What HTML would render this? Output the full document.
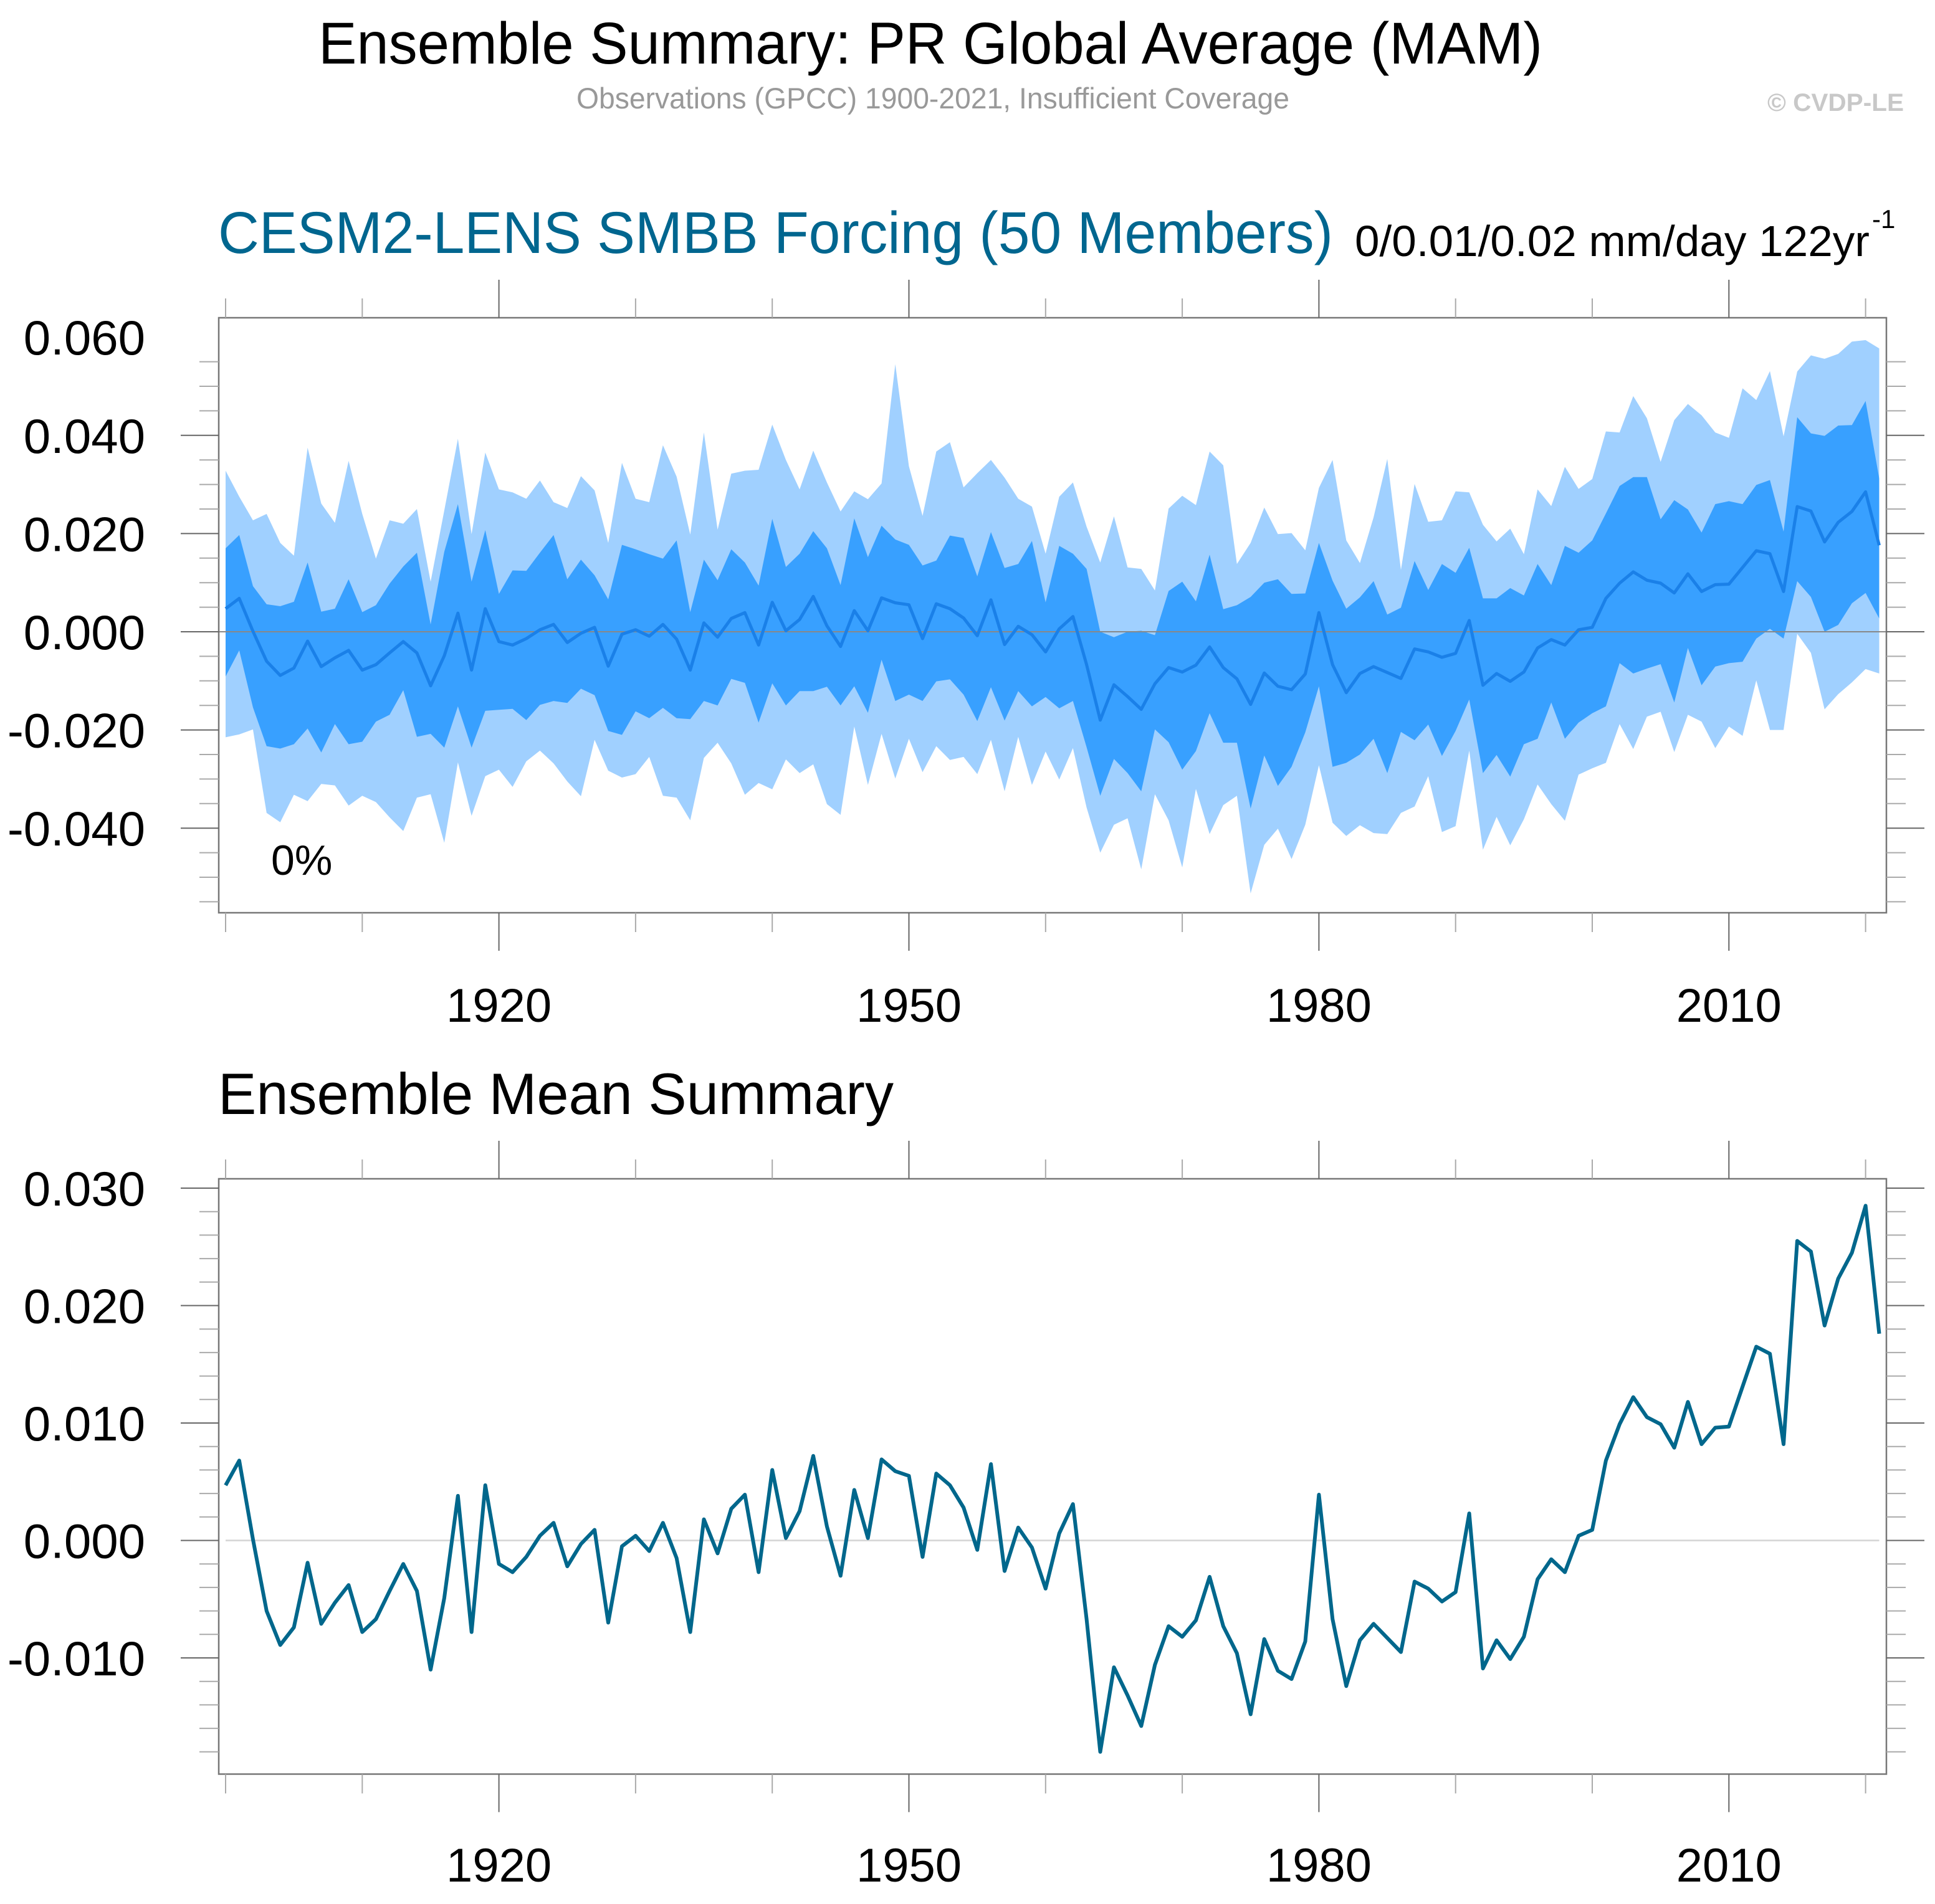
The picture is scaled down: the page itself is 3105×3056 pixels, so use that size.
<!DOCTYPE html>
<html><head><meta charset="utf-8">
<style>
html,body{margin:0;padding:0;background:#fff;}
svg{display:block;font-family:"Liberation Sans",Helvetica,Arial,sans-serif;}
</style></head>
<body>
<svg id="chart" width="3105" height="3056" viewBox="0 0 3105 3056" xmlns="http://www.w3.org/2000/svg">
<rect width="3105" height="3056" fill="#fff"/>
<text x="511" y="102" font-size="95" textLength="1964" lengthAdjust="spacingAndGlyphs" fill="#000">Ensemble Summary: PR Global Average (MAM)</text>
<text x="925" y="174" font-size="47" textLength="1144" lengthAdjust="spacingAndGlyphs" fill="#999">Observations (GPCC) 1900-2021, Insufficient Coverage</text>
<text x="2836" y="178" font-size="40" font-weight="bold" textLength="219" lengthAdjust="spacingAndGlyphs" fill="#c8c8c8">© CVDP-LE</text>
<text x="350" y="406" font-size="95" textLength="1789" lengthAdjust="spacingAndGlyphs" fill="#00668f">CESM2-LENS SMBB Forcing (50 Members)</text>
<text x="2174" y="411" font-size="70" textLength="826" lengthAdjust="spacingAndGlyphs" fill="#000">0/0.01/0.02 mm/day 122yr</text>
<text x="3004" y="366" font-size="42" fill="#000">-1</text>
<text x="350" y="1788" font-size="94" textLength="1084" lengthAdjust="spacingAndGlyphs" fill="#000">Ensemble Mean Summary</text>
<g id="topPanel"></g>
<g id="botPanel"></g>
</svg>
<script>
const years = [];
for (let y = 1900; y <= 2021; y++) years.push(y);
const ensMean = [0.0047,0.0068,0.0001,-0.0060,-0.0089,-0.0074,-0.0019,-0.0071,-0.0053,-0.0038,-0.0078,-0.0067,-0.0043,-0.0020,-0.0043,-0.0110,-0.0049,0.0038,-0.0078,0.0047,-0.0020,-0.0027,-0.0014,0.0004,0.0015,-0.0022,-0.0003,0.0009,-0.0070,-0.0005,0.0004,-0.0009,0.0015,-0.0015,-0.0078,0.0018,-0.0011,0.0027,0.0039,-0.0027,0.0060,0.0002,
0.0025,0.0072,0.0012,-0.0030,0.0043,0.0002,0.0069,0.0059,0.0055,-0.0014,0.0057,0.0047,0.0028,-0.0008,0.0065,-0.0026,0.0011,-0.0006,-0.0041,0.0006,0.0031,-0.0067,-0.0180,-0.0108,-0.0132,-0.0158,-0.0106,-0.0073,-0.0082,-0.0068,-0.0031,-0.0073,-0.0096,-0.0148,-0.0084,-0.0111,-0.0118,-0.0086,0.0039,-0.0067,
-0.0124,-0.0085,-0.0071,-0.0083,-0.0095,-0.0035,-0.0041,-0.0052,-0.0044,0.0023,-0.0109,-0.0085,-0.0101,-0.0082,-0.0033,-0.0016,-0.0027,0.0004,0.0009,0.0068,0.0099,0.0122,0.0105,0.0099,0.0079,0.0118,0.0082,0.0096,0.0097,0.0131,0.0165,0.0159,0.0082,0.0255,0.0246,0.0183,0.0223,0.0245,0.0285,0.0176];
const darkUpper = [0.0170,0.0197,0.0093,0.0056,0.0052,0.0061,0.0141,0.0041,0.0047,0.0107,0.0040,0.0054,0.0098,0.0133,0.0161,0.0015,0.0163,0.0260,0.0102,0.0207,0.0077,0.0125,0.0124,0.0161,0.0197,0.0107,0.0147,0.0115,0.0066,0.0177,0.0168,0.0158,0.0149,0.0186,0.0040,0.0147,0.0105,0.0168,0.0141,0.0094,0.0230,0.0132,
0.0159,0.0205,0.0170,0.0095,0.0231,0.0152,0.0216,0.0188,0.0177,0.0135,0.0145,0.0196,0.0191,0.0113,0.0203,0.0130,0.0138,0.0185,0.0060,0.0175,0.0159,0.0128,0.0000,-0.0011,0.0000,0.0002,-0.0007,0.0083,0.0102,0.0062,0.0157,0.0046,0.0054,0.0071,0.0100,0.0107,0.0077,0.0078,0.0181,0.0104,
0.0047,0.0070,0.0103,0.0035,0.0049,0.0144,0.0085,0.0138,0.0120,0.0171,0.0068,0.0068,0.0089,0.0074,0.0138,0.0095,0.0175,0.0161,0.0186,0.0241,0.0297,0.0315,0.0315,0.0229,0.0268,0.0249,0.0202,0.0260,0.0266,0.0260,0.0299,0.0309,0.0204,0.0437,0.0404,0.0399,0.0420,0.0421,0.0470,0.0312];
const lightUpper = [0.0328,0.0275,0.0227,0.0240,0.0181,0.0155,0.0375,0.0261,0.0222,0.0348,0.0240,0.0149,0.0227,0.0220,0.0250,0.0102,0.0247,0.0393,0.0199,0.0365,0.0290,0.0284,0.0271,0.0308,0.0264,0.0252,0.0317,0.0288,0.0181,0.0344,0.0271,0.0264,0.0380,0.0316,0.0198,0.0406,0.0208,0.0322,0.0328,0.0330,0.0422,0.0350,
0.0290,0.0369,0.0304,0.0245,0.0286,0.0270,0.0302,0.0545,0.0337,0.0236,0.0367,0.0386,0.0294,0.0323,0.0350,0.0314,0.0271,0.0255,0.0159,0.0275,0.0304,0.0214,0.0141,0.0235,0.0131,0.0128,0.0084,0.0251,0.0277,0.0258,0.0367,0.0339,0.0138,0.0181,0.0253,0.0199,0.0201,0.0166,0.0293,0.0350,
0.0186,0.0140,0.0233,0.0352,0.0126,0.0301,0.0224,0.0227,0.0286,0.0284,0.0218,0.0184,0.0210,0.0158,0.0290,0.0256,0.0336,0.0291,0.0311,0.0408,0.0406,0.0480,0.0435,0.0346,0.0431,0.0464,0.0441,0.0406,0.0395,0.0496,0.0472,0.0531,0.0398,0.0530,0.0563,0.0556,0.0566,0.0591,0.0594,0.0577];
const darkLower = [-0.0091,-0.0038,-0.0154,-0.0233,-0.0238,-0.0229,-0.0197,-0.0246,-0.0188,-0.0229,-0.0224,-0.0183,-0.0169,-0.0119,-0.0214,-0.0208,-0.0236,-0.0152,-0.0236,-0.0161,-0.0159,-0.0157,-0.0180,-0.0149,-0.0141,-0.0145,-0.0116,-0.0129,-0.0202,-0.0210,-0.0162,-0.0176,-0.0155,-0.0176,-0.0178,-0.0141,-0.0150,-0.0096,-0.0104,-0.0185,-0.0105,-0.0150,
-0.0121,-0.0121,-0.0112,-0.0150,-0.0111,-0.0165,-0.0057,-0.0141,-0.0128,-0.0141,-0.0101,-0.0097,-0.0128,-0.0182,-0.0113,-0.0181,-0.0121,-0.0152,-0.0133,-0.0156,-0.0141,-0.0235,-0.0334,-0.0259,-0.0288,-0.0325,-0.0199,-0.0225,-0.0281,-0.0243,-0.0166,-0.0226,-0.0226,-0.0360,-0.0252,-0.0314,-0.0275,-0.0205,-0.0111,-0.0275,
-0.0267,-0.0250,-0.0218,-0.0288,-0.0204,-0.0221,-0.0189,-0.0253,-0.0202,-0.0138,-0.0288,-0.0251,-0.0295,-0.0229,-0.0218,-0.0144,-0.0218,-0.0185,-0.0166,-0.0152,-0.0064,-0.0085,-0.0075,-0.0066,-0.0144,-0.0033,-0.0109,-0.0071,-0.0064,-0.0061,-0.0014,0.0006,-0.0014,0.0103,0.0071,0.0000,0.0014,0.0058,0.0079,0.0027];
const lightLower = [-0.0215,-0.0209,-0.0199,-0.0369,-0.0388,-0.0332,-0.0345,-0.0310,-0.0313,-0.0354,-0.0334,-0.0347,-0.0378,-0.0406,-0.0338,-0.0331,-0.0430,-0.0266,-0.0375,-0.0294,-0.0281,-0.0316,-0.0264,-0.0242,-0.0268,-0.0305,-0.0335,-0.0220,-0.0283,-0.0297,-0.0290,-0.0255,-0.0334,-0.0338,-0.0384,-0.0257,-0.0226,-0.0268,-0.0332,-0.0308,-0.0321,-0.0260,
-0.0288,-0.0270,-0.0351,-0.0373,-0.0193,-0.0312,-0.0208,-0.0299,-0.0218,-0.0286,-0.0233,-0.0261,-0.0255,-0.0290,-0.0220,-0.0325,-0.0214,-0.0312,-0.0244,-0.0301,-0.0237,-0.0358,-0.0450,-0.0393,-0.0380,-0.0484,-0.0331,-0.0384,-0.0480,-0.0320,-0.0412,-0.0353,-0.0334,-0.0533,-0.0434,-0.0401,-0.0463,-0.0393,-0.0272,-0.0389,
-0.0416,-0.0394,-0.0410,-0.0412,-0.0369,-0.0356,-0.0294,-0.0408,-0.0396,-0.0242,-0.0444,-0.0377,-0.0435,-0.0382,-0.0311,-0.0351,-0.0385,-0.0291,-0.0278,-0.0267,-0.0188,-0.0239,-0.0173,-0.0163,-0.0245,-0.0169,-0.0183,-0.0237,-0.0193,-0.0212,-0.0099,-0.0200,-0.0200,-0.0004,-0.0043,-0.0158,-0.0127,-0.0103,-0.0076,-0.0085];
const xTickYears = [1920, 1950, 1980, 2010];
const topYTicks = [0.06, 0.04, 0.02, 0.0, -0.02, -0.04];
const topYLabels = ["0.060", "0.040", "0.020", "0.000", "-0.020", "-0.040"];
const botYTicks = [0.03, 0.02, 0.01, 0.0, -0.01];
const botYLabels = ["0.030", "0.020", "0.010", "0.000", "-0.010"];

const NS = "http://www.w3.org/2000/svg";
function mk(parent, tag, attrs) {
  const e = document.createElementNS(NS, tag);
  for (const k in attrs) e.setAttribute(k, attrs[k]);
  parent.appendChild(e);
  return e;
}
const FL = 351, FR = 3027;
const xs = y => 362 + (y - 1900) * 21.93;

function axes(g, T, B, ys, yv0, yv1, minorStep, yTicks, yLabels, xLabelBase, prefix) {
  const fr = mk(g, "rect", {x: FL, y: T, width: FR - FL, height: B - T, fill: "none", stroke: "#777", "stroke-width": 2.5});
  
  
  for (let yr = 1900; yr <= 2020; yr += 10) {
    const major = xTickYears.includes(yr);
    const x = xs(yr);
    const len = major ? 61 : 31;
    const t1 = mk(g, "line", {x1: x, x2: x, y1: T, y2: T - len, stroke: major ? "#666" : "#aaa", "stroke-width": 2});
    
    
    const t2 = mk(g, "line", {x1: x, x2: x, y1: B, y2: B + len, stroke: major ? "#666" : "#aaa", "stroke-width": 2});
    
    
  }
  xTickYears.forEach(yr => {
    const t = mk(g, "text", {x: xs(yr), y: xLabelBase, "font-size": 76, "text-anchor": "middle", fill: "#000"});
    t.textContent = String(yr);
    
    
  });
  const n0 = Math.ceil(yv1 / minorStep - 1e-6), n1 = Math.floor(yv0 / minorStep + 1e-6);
  for (let n = n0; n <= n1; n++) {
    const v = n * minorStep, y = ys(v);
    const isMajor = yTicks.some(t => Math.abs(t - v) < 1e-9);
    const len = isMajor ? 61 : 31;
    const a = mk(g, "line", {x1: FL, x2: FL - len, y1: y, y2: y, stroke: isMajor ? "#666" : "#aaa", "stroke-width": 2});
    
    
    const b = mk(g, "line", {x1: FR, x2: FR + len, y1: y, y2: y, stroke: isMajor ? "#666" : "#aaa", "stroke-width": 2});
    
    
  }
  yTicks.forEach((v, i) => {
    const t = mk(g, "text", {x: 233, y: ys(v) + 28, "font-size": 78, "text-anchor": "end", fill: "#000"});
    t.textContent = yLabels[i];
    
    
  });
}
function pts(arr, ys) { return arr.map((v, i) => xs(years[i]).toFixed(1) + "," + ys(v).toFixed(1)); }

const topG = document.getElementById("topPanel");
const TT = 510, TB = 1465;
const ysT = v => 1014 - v / 0.02 * 157.6;
const light = mk(topG, "polygon", {points: pts(lightUpper, ysT).concat(pts(lightLower, ysT).reverse()).join(" "), fill: "#a0d0ff"});


const dark = mk(topG, "polygon", {points: pts(darkUpper, ysT).concat(pts(darkLower, ysT).reverse()).join(" "), fill: "#38a0ff"});


const z1 = mk(topG, "line", {x1: FL, x2: FR, y1: ysT(0), y2: ysT(0), stroke: "#888", "stroke-width": 2});


const m1 = mk(topG, "polyline", {points: pts(ensMean, ysT).join(" "), fill: "none", stroke: "#1a80e8", "stroke-width": 5, "stroke-linejoin": "round"});


axes(topG, TT, TB, ysT, 0.0594, -0.0572, 0.005, topYTicks, topYLabels, 1640, 'top');
const pct = mk(topG, "text", {x: 435, y: 1404, "font-size": 68, fill: "#000"});
pct.textContent = "0%";



const botG = document.getElementById("botPanel");
const BT = 1892, BB = 2847.5;
const ysB = v => 2472.5 - v / 0.01 * 188.5;
const z2 = mk(botG, "line", {x1: xs(1900), x2: xs(2021), y1: ysB(0), y2: ysB(0), stroke: "#d4d4d4", "stroke-width": 2.5});


const m2 = mk(botG, "polyline", {points: pts(ensMean, ysB).join(" "), fill: "none", stroke: "#00678c", "stroke-width": 6, "stroke-linejoin": "round"});


axes(botG, BT, BB, ysB, 0.0308, -0.0199, 0.002, botYTicks, botYLabels, 3020, 'bottom');
</script>
</body></html>
